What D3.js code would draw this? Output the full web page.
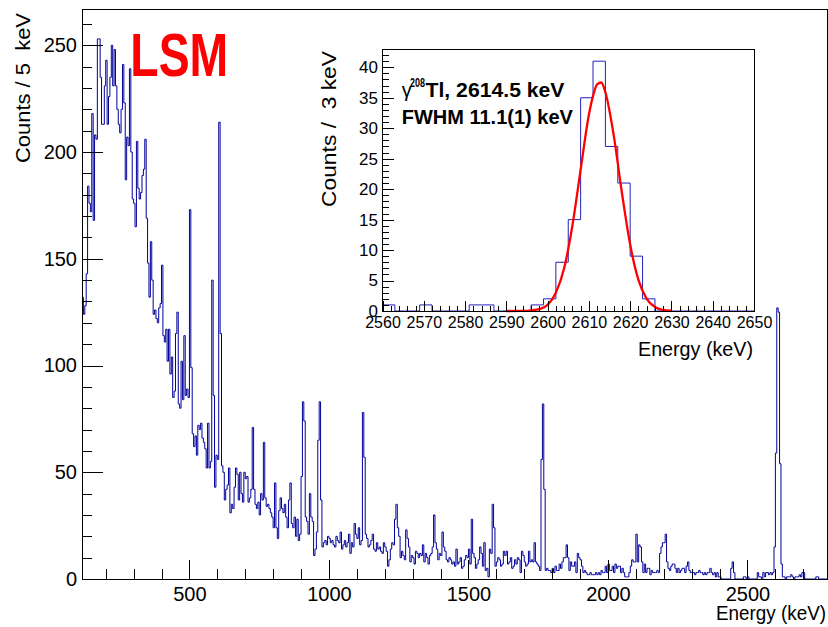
<!DOCTYPE html>
<html>
<head>
<meta charset="utf-8">
<script src="https://cdn.jsdelivr.net/npm/d3@7"></script>
<style>
  body { margin: 0; background: #fff; }
  svg { display: block; font-family: "Liberation Sans", Arial, Helvetica, sans-serif; }
</style>
</head>
<body>
<div id="chart"></div>
<script>
// main spectrum: 5 keV bins starting at 115 keV
const mainBinLow = 115;
const mainBinWidth = 5;
const mainCounts = [
  132,124,128,143,184,176,172,218,168,208,
  206,253,253,235,213,213,231,243,213,226,
  235,250,231,248,231,220,213,209,220,241,
  223,187,207,203,239,200,178,176,165,205,
  183,178,181,189,192,206,169,148,132,158,
  140,124,126,122,120,127,129,147,114,111,
  117,102,117,96,104,85,88,115,125,82,
  80,102,84,114,86,89,85,173,99,68,
  62,67,58,72,70,73,66,64,61,52,
  73,52,55,140,86,43,58,56,214,115,
  53,50,37,42,44,52,31,35,33,43,
  52,49,37,50,40,36,50,47,48,36,
  38,42,71,42,35,33,36,30,40,37,
  64,38,34,35,33,31,29,24,45,24,
  19,32,38,33,31,35,29,24,37,45,
  26,24,29,20,28,18,21,48,83,74,
  29,27,21,40,29,27,11,14,22,65,
  83,37,15,17,18,16,20,19,17,18,
  16,15,20,18,17,22,14,16,18,15,
  17,21,12,17,15,26,21,19,24,16,
  18,78,57,21,19,15,16,18,21,14,
  13,17,14,15,13,12,17,15,13,6,
  9,14,17,16,28,35,24,20,10,13,
  11,9,23,19,15,8,11,10,7,13,
  12,10,12,11,16,8,12,10,7,11,
  12,15,30,17,14,9,12,11,22,15,
  13,9,8,10,9,7,8,6,14,7,
  8,10,5,6,9,11,10,14,7,28,
  12,10,5,7,9,15,12,6,17,4,
  5,1,14,12,35,24,6,8,10,9,
  6,7,13,11,13,7,8,10,5,6,
  9,7,10,9,3,13,11,8,6,7,
  13,8,9,8,17,8,7,6,4,56,
  82,42,4,5,4,4,3,5,3,6,
  4,4,7,5,8,10,10,16,10,4,
  8,6,6,8,3,12,10,9,6,3,
  4,3,2,2,3,2,2,2,3,2,
  3,2,4,3,3,6,3,7,4,4,
  6,3,7,5,6,6,3,5,3,1,
  1,1,3,6,9,8,8,21,8,16,
  15,8,3,7,3,5,5,2,4,3,
  3,3,4,3,12,15,17,17,21,8,
  5,4,6,7,7,5,3,5,3,4,
  5,5,3,6,8,4,3,3,3,2,
  3,3,4,3,3,2,3,2,3,3,
  5,3,2,3,1,3,1,1,0,0,
  0,0,0,0,0,5,8,3,0,0,
  0,0,0,0,1,1,0,1,0,0,
  0,0,0,0,3,1,1,0,3,1,
  3,3,2,3,2,3,15,59,127,125,
  54,7,1,1,0,1,1,1,2,1,
  0,1,1,1,2,1,3,3,0,0,
  0,0,0,0,0,0,1,1,0,0,
  0,0,0,0
];
const mainYMax = 267;
const mainXTicks = [500, 1000, 1500, 2000, 2500];
const mainYTicks = [0, 50, 100, 150, 200, 250];

// inset: 3 keV bins around the 208Tl line
const insetBinLow = 2560;
const insetBinWidth = 3;
const insetCounts = [1,0,0,1,0,0,0,1,1,0,0,0,1,2,8,15,35,41,27,21,9,2,0,0,0,0,0,0,0,0];
const insetYMax = 43;
const insetXTicks = [2560,2570,2580,2590,2600,2610,2620,2630,2640,2650];
const insetYTicks = [0,5,10,15,20,25,30,35,40];
// gaussian fit
const fitCurve = [
  [2590,0],[2594,0.01],[2596,0.1],[2598,0.3],[2600,1.0],[2602,3.0],[2604,7.0],
  [2606,14.0],[2608,23.2],[2610,32.2],[2611,35.3],[2612,37.2],[2613,37.5],
  [2614,35.9],[2616,28.9],[2618,19.4],[2620,10.9],[2622,5.1],[2624,2.0],
  [2626,0.65],[2628,0.18],[2630,0.04]
];

const width = 828, height = 627;
const svg = d3.select("#chart").append("svg")
  .attr("width", width).attr("height", height);

const frame = { left: 82, right: 827, top: 9, bottom: 579 };
const x = d3.scaleLinear()
  .domain([mainBinLow, mainBinLow + mainCounts.length * mainBinWidth])
  .range([frame.left, frame.right]);
const y = d3.scaleLinear().domain([0, mainYMax]).range([frame.bottom, frame.top]);

// step outline like a ROOT histogram
function stepPoints(low, w, counts) {
  const pts = counts.map((c, i) => [low + i * w, c]);
  pts.push([low + counts.length * w, counts[counts.length - 1]]);
  return pts;
}

function drawAxes(g, xs, ys, opt) {
  const [x0, x1] = xs.range();
  const [y0, y1] = ys.range();
  // minor ticks
  g.append("g")
    .attr("transform", `translate(0,${y0})`)
    .call(d3.axisBottom(xs).tickValues(opt.xMinor).tickSizeInner(-opt.xMinorLen).tickSizeOuter(0).tickFormat(""))
    .call(a => a.select(".domain").remove());
  g.append("g")
    .attr("transform", `translate(${x0},0)`)
    .call(d3.axisLeft(ys).tickValues(opt.yMinor).tickSizeInner(-opt.yMinorLen).tickSizeOuter(0).tickFormat(""))
    .call(a => a.select(".domain").remove());
  // major ticks + labels
  const xa = g.append("g")
    .attr("transform", `translate(0,${y0})`)
    .call(d3.axisBottom(xs).tickValues(opt.xTicks).tickSizeInner(-opt.xMajorLen).tickSizeOuter(0)
      .tickPadding(opt.xPad).tickFormat(d3.format("d")));
  xa.select(".domain").remove();
  xa.selectAll("text").attr("font-size", opt.xFont).attr("fill", "#000");
  const ya = g.append("g")
    .attr("transform", `translate(${x0},0)`)
    .call(d3.axisLeft(ys).tickValues(opt.yTicks).tickSizeInner(-opt.yMajorLen).tickSizeOuter(0)
      .tickPadding(opt.yPad).tickFormat(d3.format("d")));
  ya.select(".domain").remove();
  ya.selectAll("text").attr("font-size", opt.yFont).attr("fill", "#000");
  g.selectAll(".tick line").attr("stroke", "#000").attr("shape-rendering", "crispEdges");
  g.attr("font-family", null);
  // frame
  g.append("rect")
    .attr("x", x0).attr("y", y1)
    .attr("width", x1 - x0).attr("height", y0 - y1)
    .attr("fill", "none").attr("stroke", "#000").attr("stroke-width", 1)
    .attr("shape-rendering", "crispEdges");
}

// ---- main histogram ----
const mainG = svg.append("g");
mainG.append("path")
  .datum(stepPoints(mainBinLow, mainBinWidth, mainCounts))
  .attr("fill", "none")
  .attr("stroke", "#000099")
  .attr("stroke-width", 1)
  .attr("d", d3.line().x(d => x(d[0])).y(d => y(d[1])).curve(d3.curveStepAfter));

drawAxes(mainG, x, y, {
  xTicks: mainXTicks,
  xMinor: d3.range(200, 2785, 100).filter(v => v % 500 !== 0),
  yTicks: mainYTicks,
  yMinor: d3.range(10, mainYMax, 10).filter(v => v % 50 !== 0),
  xMajorLen: 19, xMinorLen: 10, yMajorLen: 21, yMinorLen: 10,
  xPad: 8, yPad: 5, xFont: 20, yFont: 20
});

svg.append("text")
  .attr("transform", "translate(29.5,13) rotate(-90)")
  .attr("text-anchor", "end")
  .attr("font-size", 21)
  .attr("textLength", 150).attr("lengthAdjust", "spacingAndGlyphs")
  .attr("xml:space", "preserve")
  .text("Counts / 5  keV");

svg.append("text")
  .attr("x", 826).attr("y", 620)
  .attr("text-anchor", "end")
  .attr("font-size", 20)
  .attr("textLength", 110).attr("lengthAdjust", "spacingAndGlyphs")
  .text("Energy (keV)");

svg.append("text")
  .attr("x", 130.3).attr("y", 75.7)
  .attr("font-size", 61).attr("font-weight", "bold")
  .attr("fill", "#ff0000")
  .attr("textLength", 98).attr("lengthAdjust", "spacingAndGlyphs")
  .text("LSM");

// ---- inset ----
const xi = d3.scaleLinear().domain([2560, 2650]).range([382.5, 754]);
const yi = d3.scaleLinear().domain([0, insetYMax]).range([311, 49]);
const insetG = svg.append("g");

insetG.append("path")
  .datum(stepPoints(insetBinLow, insetBinWidth, insetCounts))
  .attr("fill", "none")
  .attr("stroke", "#2222bb")
  .attr("stroke-width", 1)
  .attr("d", d3.line().x(d => xi(d[0])).y(d => yi(d[1])).curve(d3.curveStepAfter));

insetG.append("path")
  .datum(fitCurve)
  .attr("fill", "none")
  .attr("stroke", "#ff0000")
  .attr("stroke-width", 2.3)
  .attr("d", d3.line().x(d => xi(d[0])).y(d => yi(d[1])).curve(d3.curveMonotoneX));

drawAxes(insetG, xi, yi, {
  xTicks: insetXTicks,
  xMinor: d3.range(2562, 2650, 2).filter(v => v % 10 !== 0),
  yTicks: insetYTicks,
  yMinor: d3.range(1, insetYMax, 1).filter(v => v % 5 !== 0),
  xMajorLen: 10, xMinorLen: 5, yMajorLen: 11, yMinorLen: 6,
  xPad: 5.5, yPad: 4.5, xFont: 16, yFont: 17
});

svg.append("text")
  .attr("transform", "translate(336,51) rotate(-90)")
  .attr("text-anchor", "end")
  .attr("font-size", 20)
  .attr("textLength", 156).attr("lengthAdjust", "spacingAndGlyphs")
  .attr("xml:space", "preserve")
  .text("Counts /  3 keV");

svg.append("text")
  .attr("x", 753).attr("y", 356)
  .attr("text-anchor", "end")
  .attr("font-size", 20)
  .attr("textLength", 115).attr("lengthAdjust", "spacingAndGlyphs")
  .text("Energy (keV)");

// "γ 208Tl, 2614.5 keV" built from three pieces so the superscript stays narrow
svg.append("text")
  .attr("x", 401.7).attr("y", 96.7)
  .attr("font-size", 20)
  .text("γ");
svg.append("text")
  .attr("x", 410).attr("y", 86.7)
  .attr("font-size", 13).attr("font-weight", "bold")
  .attr("textLength", 15).attr("lengthAdjust", "spacingAndGlyphs")
  .text("208");
svg.append("text")
  .attr("x", 425.5).attr("y", 96.7)
  .attr("font-size", 20).attr("font-weight", "bold")
  .attr("textLength", 139).attr("lengthAdjust", "spacingAndGlyphs")
  .text("Tl, 2614.5 keV");

svg.append("text")
  .attr("x", 401.7).attr("y", 124.3)
  .attr("font-size", 20).attr("font-weight", "bold")
  .text("FWHM 11.1(1) keV");
</script>
</body>
</html>
